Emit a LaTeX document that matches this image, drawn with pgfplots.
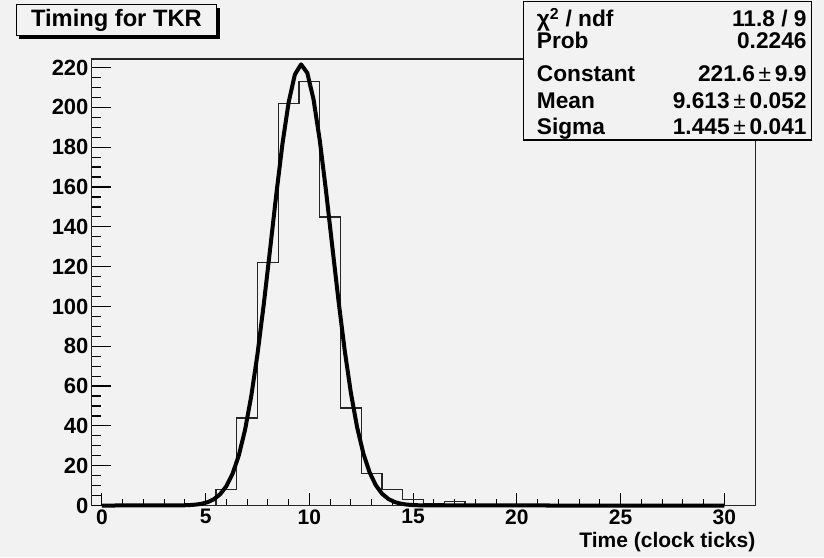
\documentclass[border=0pt]{standalone}
\usepackage{pgfplots}
\pgfplotsset{compat=1.18}
\usepackage{fontspec}
\setmainfont{Liberation Sans}
\definecolor{bg}{HTML}{F2F2F2}
\begin{document}
\begin{tikzpicture}
\useasboundingbox (0pt,0pt) rectangle (824pt,557pt);
\fill[bg] (0pt,0pt) rectangle (824pt,557pt);
% main axis: frame, x ticks, data
\begin{axis}[
  at={(91.5pt,51.5pt)}, anchor=south west,
  scale only axis, width=664pt, height=446.5pt,
  xmin=-0.5, xmax=31.5, ymin=0, ymax=224.3,
  axis background/.style={fill=bg},
  axis line style={black!85, line width=1.3pt},
  tick align=inside, xtick pos=bottom, ytick=\empty,
  xtick={0,5,...,30}, minor x tick num=4,
  major tick length=13pt, minor tick length=7pt,
  every tick/.style={black, line width=1.2pt},
  /pgf/number format/assume math mode=true,
  xticklabel style={font=\fontsize{21}{25}\selectfont\bfseries, yshift=-0.5pt},
  xlabel={Time (clock ticks)},
  xlabel style={at={(rel axis cs:1,0)}, anchor=east, yshift=-37pt, inner sep=0pt,
    font=\fontsize{21}{25}\selectfont\bfseries},
  clip=false,
]
\addplot[const plot, black!85, line width=1.3pt] coordinates {
(-0.5,0) (5.5,8) (6.5,44) (7.5,122) (8.5,202) (9.5,213) (10.5,145) (11.5,49)
(12.5,16) (13.5,8) (14.5,3) (15.5,1) (16.5,2) (17.5,0) (31.5,0)};
\addplot[black, line width=4pt, line join=round] coordinates {
(0,0) (3.0,0.006) (3.6,0.038) (3.9,0.089) (4.2,0.199) (4.5,0.423) (4.8,0.864)
(5.1,1.689) (5.4,3.16) (5.7,5.66) (6.0,9.72) (6.3,16.0) (6.6,25.2) (6.9,38.0)
(7.2,55.0) (7.5,76.1) (7.8,100.9) (8.1,128.1) (8.4,155.8) (8.7,181.5)
(9.0,202.5) (9.3,216.5) (9.6,221.6) (9.9,217.3) (10.2,204.0) (10.5,183.5)
(10.8,158.2) (11.1,130.5) (11.4,103.2) (11.7,78.1) (12.0,56.6) (12.3,39.3)
(12.6,26.2) (12.9,16.7) (13.2,10.2) (13.5,5.95) (13.8,3.33) (14.1,1.79)
(14.4,0.917) (14.7,0.451) (15.0,0.213) (15.3,0.096) (15.9,0.017) (16.5,0.002)
(30,0)};
\end{axis}
% second axis: y ticks and labels
\begin{axis}[
  at={(91.5pt,51.5pt)}, anchor=south west,
  scale only axis, width=664pt, height=446.5pt,
  xmin=-0.5, xmax=31.5, ymin=0, ymax=224.3,
  axis line style={draw=none},
  tick align=inside, ytick pos=left, xtick=\empty,
  ytick={0,20,...,220}, minor y tick num=3,
  major tick length=19pt, minor tick length=9.5pt,
  every tick/.style={black, line width=1.2pt},
  /pgf/number format/assume math mode=true,
  yticklabel style={font=\fontsize{22}{26}\selectfont\bfseries, xshift=0.5pt},
]
\addplot[draw=none] coordinates {(0,0)};
\end{axis}
% title box
\fill[black] (19pt,518pt) rectangle (219.5pt,549pt);
\draw[black, fill=bg, line width=1pt] (16pt,552pt) rectangle (216.7pt,521pt);
\node[font=\fontsize{23.7}{28}\selectfont\bfseries] at (116.4pt,536.3pt) {Timing for TKR};
% stats box
\draw[black, fill=bg, line width=1.3pt] (523.3pt,555.5pt) rectangle (811.5pt,417pt);
\begin{scope}[every node/.style={font=\fontsize{22.7}{27}\selectfont\bfseries, inner sep=0pt}]
\node[anchor=base west] at (536.7pt,530pt) {χ\textsuperscript{2} / ndf};
\node[anchor=base east] at (806.7pt,530pt) {11.8 / 9};
\node[anchor=base west] at (536.7pt,508.5pt) {Prob};
\node[anchor=base east] at (806.7pt,508.5pt) {0.2246};
\node[anchor=base west] at (536.7pt,475.5pt) {Constant};
\node[anchor=base east] at (806.7pt,475.5pt) {221.6\,{\mdseries ±}\,9.9};
\node[anchor=base west] at (536.7pt,448pt) {Mean};
\node[anchor=base east] at (806.7pt,448pt) {9.613\,{\mdseries ±}\,0.052};
\node[anchor=base west] at (536.7pt,422pt) {Sigma};
\node[anchor=base east] at (806.7pt,422pt) {1.445\,{\mdseries ±}\,0.041};
\end{scope}
\end{tikzpicture}
\end{document}
